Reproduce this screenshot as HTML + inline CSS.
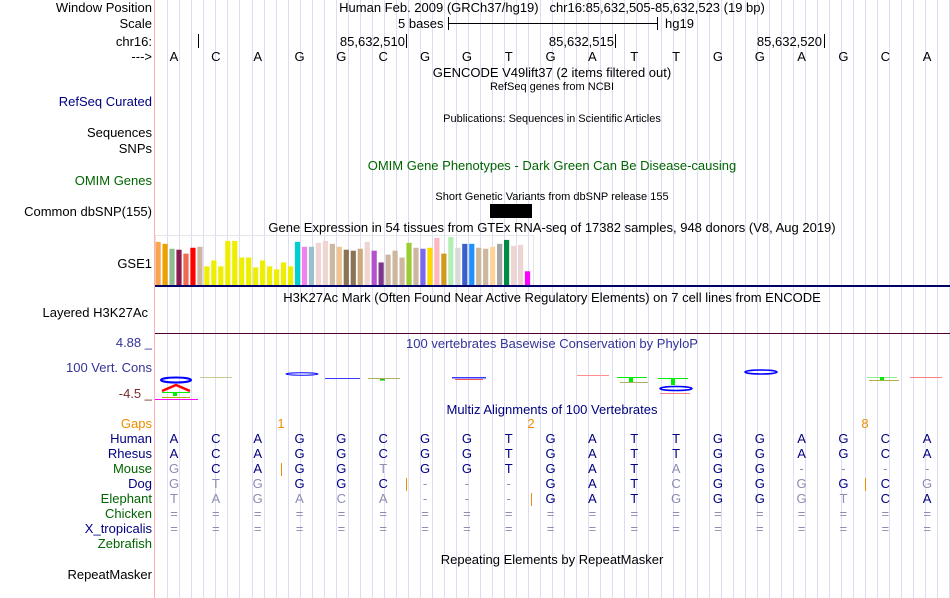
<!DOCTYPE html>
<html><head><meta charset="utf-8">
<style>
html,body{margin:0;padding:0;background:#fff;}
#root{position:relative;width:950px;height:598px;overflow:hidden;font-family:"Liberation Sans",sans-serif;font-size:13px;color:#000;}
.t{position:absolute;white-space:nowrap;line-height:14px;}
.lab{position:absolute;right:798px;white-space:nowrap;line-height:14px;text-align:right;}
.c{position:absolute;white-space:nowrap;line-height:14px;transform:translateX(-50%);}
.sm{font-size:11px;}
.navy{color:#000080;}
.grn{color:#006400;}
.org{color:#f08c00;}
</style></head><body>
<div id="root">
<svg id="grid" width="950" height="598" style="position:absolute;left:0;top:0"></svg>
<div style="position:absolute;left:154px;top:0;width:1px;height:598px;background:#ffb0b0"></div>

<div class="lab" style="top:1px">Window Position</div>
<div class="c" style="left:552px;top:1px">Human Feb. 2009 (GRCh37/hg19)&nbsp;&nbsp;&nbsp;chr16:85,632,505-85,632,523 (19 bp)</div>
<div class="lab" style="top:17px">Scale</div>
<div class="t" style="left:398px;top:17px">5 bases</div>
<div style="position:absolute;left:448px;top:23px;width:210px;height:1px;background:#000"></div>
<div style="position:absolute;left:448px;top:17px;width:1px;height:13px;background:#000"></div>
<div style="position:absolute;left:657px;top:17px;width:1px;height:13px;background:#000"></div>
<div class="t" style="left:665px;top:17px">hg19</div>
<div class="lab" style="top:35px">chr16:</div>
<div style="position:absolute;left:198px;top:34px;width:1px;height:14px;background:#000"></div>
<div class="t" style="right:545px;top:35px">85,632,510</div>
<div style="position:absolute;left:406px;top:34px;width:1px;height:14px;background:#000"></div>
<div class="t" style="right:336px;top:35px">85,632,515</div>
<div style="position:absolute;left:615px;top:34px;width:1px;height:14px;background:#000"></div>
<div class="t" style="right:128px;top:35px">85,632,520</div>
<div style="position:absolute;left:824px;top:34px;width:1px;height:14px;background:#000"></div>
<div class="lab" style="top:50px">---&gt;</div>
<div id="bases"></div>

<div class="c" style="left:552px;top:66px">GENCODE V49lift37 (2 items filtered out)</div>
<div class="c sm" style="left:552px;top:80px">RefSeq genes from NCBI</div>
<div class="lab navy" style="top:95px">RefSeq Curated</div>
<div class="c sm" style="left:552px;top:112px">Publications: Sequences in Scientific Articles</div>
<div class="lab" style="top:126px">Sequences</div>
<div class="lab" style="top:142px">SNPs</div>
<div class="c grn" style="left:552px;top:159px">OMIM Gene Phenotypes - Dark Green Can Be Disease-causing</div>
<div class="lab grn" style="top:174px">OMIM Genes</div>
<div class="c sm" style="left:552px;top:190px">Short Genetic Variants from dbSNP release 155</div>
<div style="position:absolute;left:490px;top:204px;width:42px;height:14px;background:#000"></div>
<div class="lab" style="top:205px">Common dbSNP(155)</div>
<div class="c" style="left:552px;top:221px">Gene Expression in 54 tissues from GTEx RNA-seq of 17382 samples, 948 donors (V8, Aug 2019)</div>
<svg id="gtex" width="950" height="598" style="position:absolute;left:0;top:0"></svg>
<div class="lab" style="top:257px">GSE1</div>
<div style="position:absolute;left:155px;top:285px;width:795px;height:2px;background:#000066"></div>
<div class="c" style="left:552px;top:291px">H3K27Ac Mark (Often Found Near Active Regulatory Elements) on 7 cell lines from ENCODE</div>
<div class="lab" style="top:306px;right:802px">Layered H3K27Ac</div>
<div style="position:absolute;left:155px;top:333px;width:795px;height:1px;background:#4b0030"></div>
<div class="lab navy" style="top:336px;color:#333399">4.88 _</div>
<div class="c" style="left:552px;top:337px;color:#333399">100 vertebrates Basewise Conservation by PhyloP</div>
<div class="lab" style="top:361px;color:#333399">100 Vert. Cons</div>
<div class="lab" style="top:387px;color:#7a2a2a">-4.5 _</div>
<svg id="logo" width="950" height="598" style="position:absolute;left:0;top:0">
<ellipse cx="176" cy="380" rx="15" ry="2.5" fill="none" stroke="#0000ff" stroke-width="2"/>
<path d="M162 391 L176 385 L190 391" fill="none" stroke="#ff0000" stroke-width="2.5"/>
<rect x="162" y="392" width="28" height="1" fill="#00ee00"/><rect x="173" y="392" width="4" height="4" fill="#00ee00"/>
<rect x="162" y="397" width="28" height="1" fill="#b0b000"/>
<rect x="155" y="399" width="43" height="1" fill="#ff00ff"/>
<rect x="200" y="377" width="32" height="1" fill="#c8c890"/>
<ellipse cx="302" cy="374" rx="16" ry="1.2" fill="none" stroke="#0000ff" stroke-width="1"/>
<rect x="325" y="378" width="35" height="1" fill="#3a3aff"/>
<rect x="368" y="378" width="32" height="1" fill="#b0b060"/><rect x="380" y="379" width="5" height="1.5" fill="#00cc00"/>
<rect x="452" y="377" width="34" height="1.5" fill="#3a3aff"/><rect x="455" y="379" width="28" height="1" fill="#ff5050"/>
<rect x="577" y="375" width="32" height="1" fill="#ff9090"/>
<rect x="617" y="377" width="30" height="1" fill="#00ee00"/><rect x="629" y="377" width="4" height="5" fill="#00ee00"/><rect x="620" y="382" width="28" height="1" fill="#b0b060"/>
<rect x="658" y="378" width="30" height="1" fill="#00ee00"/><rect x="671" y="378" width="4" height="7" fill="#00ee00"/>
<ellipse cx="676" cy="388.5" rx="16" ry="2" fill="none" stroke="#0000ff" stroke-width="1.6"/><rect x="660" y="393" width="30" height="1" fill="#ff8080"/>
<ellipse cx="761" cy="372" rx="16" ry="2" fill="none" stroke="#0000ff" stroke-width="1.6"/>
<rect x="867" y="377" width="30" height="1" fill="#90ee90"/><rect x="880" y="377" width="4" height="3" fill="#00ee00"/><rect x="869" y="380" width="30" height="1" fill="#b0b040"/>
<rect x="910" y="377" width="32" height="1" fill="#ff8080"/>
</svg>
<div class="c navy" style="left:552px;top:403px">Multiz Alignments of 100 Vertebrates</div>
<div class="lab org" style="top:417px">Gaps</div>
<div class="c org" style="left:281px;top:417px">1</div>
<div class="c org" style="left:531px;top:417px">2</div>
<div class="c org" style="left:865px;top:417px">8</div>
<div id="align"></div>
<div class="c" style="left:552px;top:553px">Repeating Elements by RepeatMasker</div>
<div class="lab" style="top:568px">RepeatMasker</div>
</div>
<script>
const baseSeq = ["A","C","A","G","G","C","G","G","T","G","A","T","T","G","G","A","G","C","A"];
const gtexValues = [44,42,37,36,32,38,39,19,25,19,45,45,28,28,18,25,19,16,23,19,44,39,39,43,45,42,39,36,35,37,44,35,23,31,35,28,43,38,37,38,48,32,49,38,42,42,38,37,39,42,46,40,41,14];
const gtexColors = ["#f9a550","#f0a000","#8fbc8f","#8b1a4f","#ee6a50","#ff0000","#cdb79e","#eeee00","#eeee00","#eeee00","#eeee00","#eeee00","#eeee00","#eeee00","#eeee00","#eeee00","#eeee00","#eeee00","#eeee00","#eeee00","#00ced1","#ee82ee","#9ac0cd","#eed5d2","#eed5d2","#cdb79e","#eec591","#8b7355","#8b7355","#cdaa7d","#eed5d2","#b452cd","#7a378b","#cdb79e","#cdb79e","#cdb79e","#9acd32","#cdb79e","#7b68ee","#ffd700","#ffb6c1","#cd9b1d","#b4eeb4","#d9d9d9","#3a5fcd","#1e90ff","#cdb79e","#cdb79e","#ffd39b","#a6a6a6","#008b45","#eed5d2","#eed5d2","#ff00ff"];
const species = ["Human","Rhesus","Mouse","Dog","Elephant","Chicken","X_tropicalis","Zebrafish"];
const speciesColors = ["#000080","#000080","#006400","#000080","#006400","#006400","#000080","#006400"];
const alignRows = [
 "ACAGGCGGTGATTGGAGCA",
 "ACAGGCGGTGATTGGAGCA",
 "GCAGGTGGTGATAGG----",
 "GTGGGC---GATCGGGGCG",
 "TAGACA---GATGGGGTCA",
 "===================",
 "===================",
 "                   "];
const grayMask = [
 "0000000000000000000",
 "0000000000000000000",
 "1000010000001001111",
 "1110001110001001001",
 "1111111110001001100",
 "1111111111111111111",
 "1111111111111111111",
 "0000000000000000000"];
const NS="http://www.w3.org/2000/svg";
const baseX = i => 174 + i*41.84;
const grid=document.getElementById('grid');
for(let x=167.3;x<950;x+=12.03){
  const l=document.createElementNS(NS,'rect');
  l.setAttribute('x',Math.round(x));l.setAttribute('y',0);l.setAttribute('width',1);l.setAttribute('height',598);l.setAttribute('fill','#dcdcf4');
  
  
  grid.appendChild(l);
}
const bases=document.getElementById('bases');
baseSeq.forEach((b,i)=>{
  const d=document.createElement('div');d.className='c';d.style.left=baseX(i)+'px';d.style.top='50px';d.textContent=b;
  
  
  bases.appendChild(d);
});
const g=document.getElementById('gtex');
const gBase=285, gMax=50, gH=49, gx0=155.5, gStep=6.97;
const frame=document.createElementNS(NS,'rect');
frame.setAttribute('x',155.5);frame.setAttribute('y',235.5);frame.setAttribute('width',378);frame.setAttribute('height',50);frame.setAttribute('fill','none');frame.setAttribute('stroke','#e6e6e6');
g.appendChild(frame);
gtexValues.forEach((v,i)=>{
  const h=v/gMax*gH;
  const r=document.createElementNS(NS,'rect');
  r.setAttribute('x',gx0+i*gStep);r.setAttribute('y',gBase-h);r.setAttribute('width',5.2);r.setAttribute('height',h);r.setAttribute('fill',gtexColors[i]);
  
  
  g.appendChild(r);
});
const al=document.getElementById('align');
species.forEach((s,r)=>{
  const y=432+r*15;
  const lab=document.createElement('div');lab.className='lab';lab.style.top=y+'px';lab.style.color=speciesColors[r];lab.textContent=s;
  
  
  al.appendChild(lab);
  for(let i=0;i<19;i++){
    const ch=alignRows[r][i]; if(ch===' ')continue;
    const d=document.createElement('div');d.className='c';d.style.left=baseX(i)+'px';d.style.top=y+'px';
    d.style.color=grayMask[r][i]==='1'?'#8c8cb4':'#000080';d.textContent=ch;
    
    
    al.appendChild(d);
  }
});
[[281,2],[406,3],[865,3],[531,4]].forEach(([x,r])=>{
  const t=document.createElement('div');t.style.cssText='position:absolute;width:1px;height:13px;background:#f08c00;left:'+x+'px;top:'+(433+r*15)+'px';
  
  
  al.appendChild(t);
});
</script>
</body></html>
